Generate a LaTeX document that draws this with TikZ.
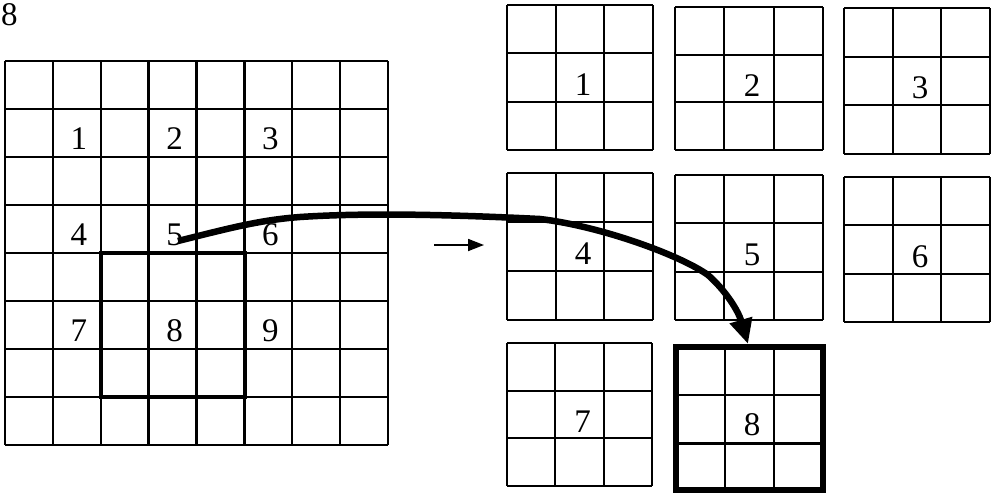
\documentclass[tikz,border=0pt]{standalone}
\usepackage{fontspec}
\setmainfont{Liberation Serif}
\usetikzlibrary{arrows.meta}
\begin{document}
\begin{tikzpicture}[x=1pt,y=-1pt,
  gridline/.style={line width=2.3pt,black},
  thickframe/.style={line width=4.8pt,black},
  numlabel/.style={font=\fontsize{33}{36}\selectfont,inner sep=0pt},
  flow/.style={line width=6.5pt,black,line join=round,-{Triangle[width=22pt,length=25pt]}},
  hint/.style={line width=1.8pt,black,-{Triangle[width=12pt,length=16pt]}},
]
\useasboundingbox (0,0) rectangle (997,493);
\fill[white] (0,0) rectangle (997,493);

% caption fragment in the corner
\node[numlabel,anchor=north west] (cap) at (1,3) {8};

% large 8x8 input grid
\foreach \i in {0,...,8} {
  \draw[gridline] ({5+\i*47.875},61) -- ({5+\i*47.875},445);
  \draw[gridline] (5,{61+\i*48}) -- (388,{61+\i*48});
}
% window labels on the large grid (centres of the 3x3 windows, stride 2)
\foreach \n/\c/\r in {1/1/1,2/3/1,3/5/1,4/1/3,5/3/3,6/5/3,7/1/5,8/3/5,9/5/5}
  \node[numlabel] (w\n) at ({5+(\c+0.5)*47.875+2},{61+(\r+0.5)*48+6}) {\n};
% highlighted window 8
\draw[thickframe] (101,253) rectangle (245,397);

% small 3x3 output grids: name / left / top / right / bottom
\foreach \n/\xa/\ya/\xb/\yb in {
  1/507/5/653/150, 2/675/7/823/150, 3/844/8/990/154,
  4/507/173/653/320, 5/675/175/823/320, 6/844/177/990/322,
  7/507/343/652/486} {
  \coordinate (g\n-nw) at (\xa,\ya);
  \coordinate (g\n-se) at (\xb,\yb);
  \foreach \k in {0,...,3} {
    \draw[gridline] ({\xa+\k*(\xb-\xa)/3},\ya) -- ({\xa+\k*(\xb-\xa)/3},\yb);
    \draw[gridline] (\xa,{\ya+\k*(\yb-\ya)/3}) -- (\xb,{\ya+\k*(\yb-\ya)/3});
  }
  \node[numlabel] (s\n) at ({(\xa+\xb)/2+3},{(\ya+\yb)/2+7}) {\n};
}
% grid 8, with a heavy frame
\coordinate (g8-nw) at (676,347);
\coordinate (g8-se) at (823,492);
\foreach \k in {1,2} {
  \draw[gridline] ({676+\k*49},347) -- ({676+\k*49},492);
  \draw[gridline] (676,{347+\k*48.3}) -- (823,{347+\k*48.3});
}
\draw[line width=5.5pt] (676,347) rectangle (823,490);
\node[numlabel] (s8) at (752,425) {8};
\coordinate (g8-top) at (748,344);

% small arrow between the grids
\coordinate (ha) at (434,245);
\coordinate (hb) at (484,245);
\draw[hint] (ha) -- (hb);

% mapping of window 8 onto output grid 8
\coordinate (p0) at (178,241);
\draw[flow] (p0) .. controls (230,228) and (260,220) .. (300,217)
  .. controls (360,213) and (440,214) .. (540,219)
  .. controls (600,226) and (680,255) .. (708,275)
  .. controls (725,290) and (738,310) .. (g8-top);
\end{tikzpicture}
\end{document}
